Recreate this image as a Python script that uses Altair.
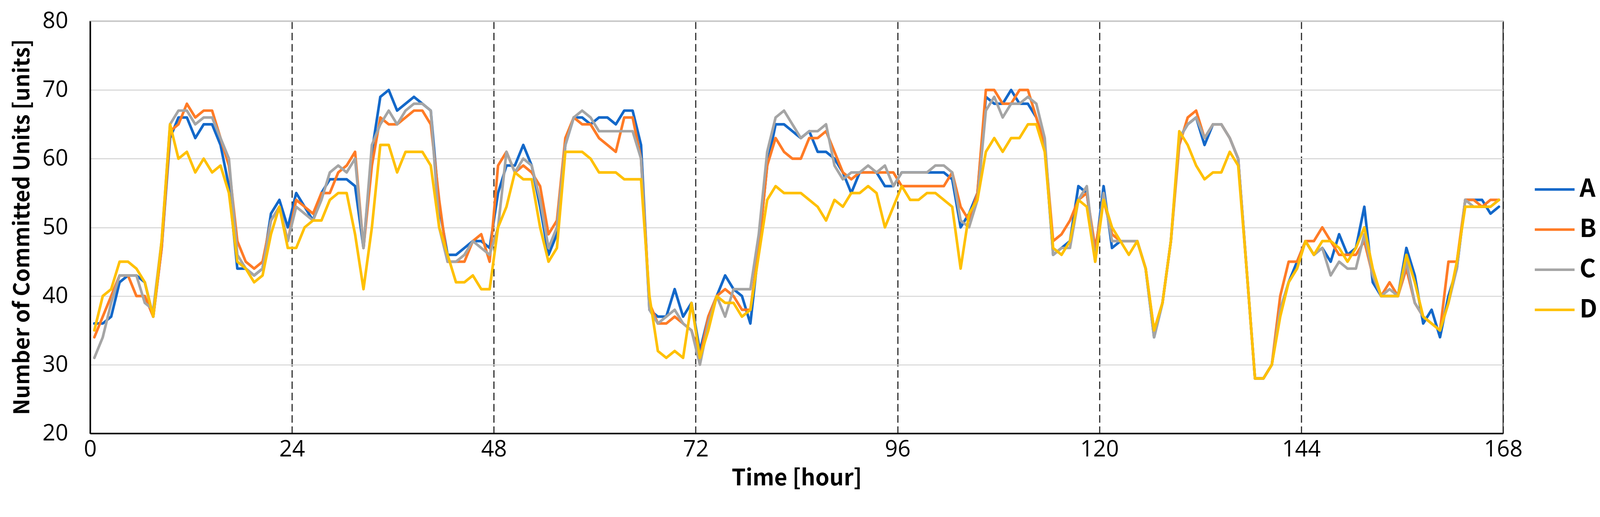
import altair as alt
import pandas as pd

hours = list(range(168))
series_names = ["A", "B", "C", "D"]
series_colors = ["#1368C9", "#FF7B26", "#A5A5A5", "#FFC000"]
x_ticks = [0, 24, 48, 72, 96, 120, 144, 168]
y_ticks = [20, 30, 40, 50, 60, 70, 80]

A = [36,36,37,42,43,43,42,37,47,63,66,66,63,65,65,62,56,44,44,43,44,52,54,50,
     55,53,51,55,57,57,57,56,47,61,69,70,67,68,69,68,67,53,46,46,47,48,48,47,
     55,59,59,62,59,53,46,49,62,66,66,65,66,66,65,67,67,62,38,37,37,41,37,39,
     32,37,40,43,41,40,36,47,59,65,65,64,63,64,61,61,60,58,55,58,58,58,56,56,
     58,58,58,58,58,58,57,50,52,55,69,68,68,70,68,68,66,62,46,47,48,56,55,46,
     56,47,48,48,48,44,34,39,48,63,65,66,62,65,65,63,60,44,28,28,30,38,42,45,
     48,46,47,45,49,46,47,53,42,40,40,40,47,43,36,38,34,40,44,54,54,54,52,53]
B = [34,37,40,43,43,40,40,37,47,64,65,68,66,67,67,63,59,48,45,44,45,51,53,48,
     54,53,52,55,55,58,59,61,47,59,66,65,65,66,67,67,65,54,45,45,45,48,49,45,
     59,61,58,59,58,56,49,51,63,66,65,65,63,62,61,66,66,60,39,36,36,37,36,35,
     31,37,40,41,40,38,38,47,59,63,61,60,60,63,63,64,61,58,57,58,58,58,58,58,
     56,56,56,56,56,56,58,53,51,55,70,70,68,68,70,70,66,62,48,49,51,54,55,47,
     54,49,48,48,48,44,35,39,48,62,66,67,63,65,65,63,60,44,28,28,30,40,45,45,
     48,48,50,48,46,46,46,48,43,40,42,40,44,39,37,36,35,45,45,54,54,53,54,54]
C = [31,34,39,43,43,43,39,38,48,65,67,67,65,66,66,63,60,46,44,43,44,51,53,48,
     53,52,51,54,58,59,58,60,47,62,65,67,65,67,68,68,67,50,45,45,46,48,47,46,
     50,61,58,60,59,54,47,50,62,66,67,66,64,64,64,64,64,60,38,36,37,38,36,35,
     30,36,40,37,41,41,41,49,61,66,67,65,63,64,64,65,59,57,58,58,59,58,59,56,
     58,58,58,58,59,59,58,51,50,54,67,69,66,68,68,69,68,63,46,47,47,54,56,45,
     55,48,48,48,48,44,34,39,48,63,65,66,63,65,65,63,60,44,28,28,30,38,42,44,
     48,46,47,43,45,44,44,49,43,40,41,40,45,39,37,36,35,39,44,54,53,53,53,54]
D = [35,40,41,45,45,44,42,37,48,65,60,61,58,60,58,59,55,45,44,42,43,49,53,47,
     47,50,51,51,54,55,55,49,41,50,62,62,58,61,61,61,59,50,46,42,42,43,41,41,
     50,53,58,57,57,50,45,47,61,61,61,60,58,58,58,57,57,57,40,32,31,32,31,39,
     31,35,40,39,39,37,38,46,54,56,55,55,55,54,53,51,54,53,55,55,56,55,50,53,
     56,54,54,55,55,54,53,44,52,54,61,63,61,63,63,65,65,61,47,46,48,54,53,45,
     54,50,48,46,48,44,35,39,48,64,62,59,57,58,58,61,59,44,28,28,30,37,42,44,
     48,46,48,48,47,45,47,50,44,40,40,40,46,42,37,36,35,39,45,53,53,53,53,54]

rows = []
for name, vals in zip(series_names, [A, B, C, D]):
    for h, v in zip(hours, vals):
        rows.append({"hour": h, "series": name, "units": v})
df = pd.DataFrame(rows)

FONT = "Noto Sans CJK KR"
LABEL_FONT = "Open Sans"

chart = (
    alt.Chart(df)
    .transform_calculate(pos="datum.hour + 0.5")
    .mark_line(strokeWidth=7, strokeJoin="round", strokeCap="round")
    .encode(
        x=alt.X(
            "pos:Q",
            scale=alt.Scale(domain=[0, 168], nice=False, zero=False),
            axis=alt.Axis(
                values=x_ticks,
                title="Time [hour]",
                ticks=False,
                tickSize=0,
                labelPadding=14,
                labelFlush=False,
                labelFontSize=60,
                labelFont=LABEL_FONT,
                labelColor="#000000",
                domainColor="#000000",
                domainWidth=4,
                grid=True,
                gridDash=[20, 10],
                gridColor="#262626",
                gridWidth=3,
                titleFont=FONT,
                titleFontSize=60,
                titleFontWeight="bold",
                titleColor="#000000",
                titleBaseline="alphabetic",
                titleY=138,
            ),
        ),
        y=alt.Y(
            "units:Q",
            scale=alt.Scale(domain=[20, 80], nice=False, zero=False),
            axis=alt.Axis(
                values=y_ticks,
                title="Number of Committed Units [units]",
                ticks=False,
                tickSize=0,
                labelPadding=59,
                labelFontSize=60,
                labelFont=LABEL_FONT,
                labelColor="#000000",
                domainColor="#000000",
                domainWidth=4,
                grid=True,
                gridColor="#D9D9D9",
                gridWidth=3,
                titleFont=FONT,
                titleFontSize=58,
                titleFontWeight="bold",
                titleColor="#000000",
                titleAngle=270,
                titleAlign="center",
                titleBaseline="alphabetic",
                titleX=-163,
                titleY=548,
            ),
        ),
        color=alt.Color(
            "series:N",
            scale=alt.Scale(domain=series_names, range=series_colors),
            legend=alt.Legend(
                title=None,
                orient="none",
                legendX=3848,
                legendY=392,
                padding=0,
                symbolType="stroke",
                symbolSize=11236,
                symbolStrokeWidth=7,
                labelFont=FONT,
                labelFontSize=66,
                labelFontWeight="bold",
                labelColor="#000000",
                labelOffset=10,
                rowPadding=17,
            ),
        ),
    )
    .properties(
        width=3767,
        height=1099,
        autosize="none",
        padding={"left": 232, "top": 22, "right": 250, "bottom": 160},
        background="white",
    )
    .configure_view(stroke="#404040", strokeWidth=3)
)

chart.save("out.html", embed_options={"renderer": "svg", "actions": False})
